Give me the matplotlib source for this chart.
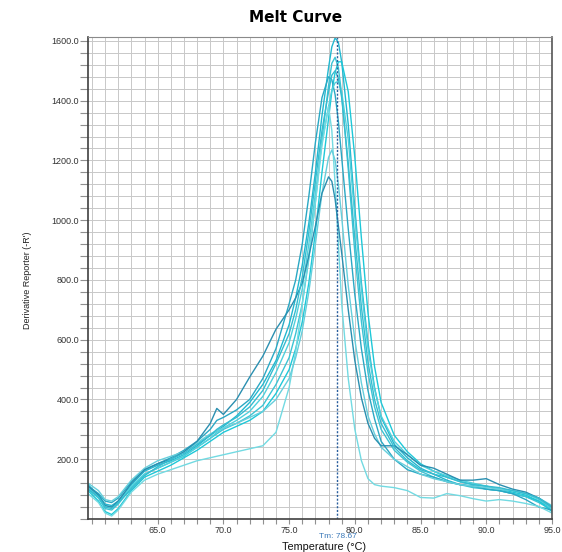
import matplotlib
matplotlib.use("Agg")
import matplotlib.pyplot as plt
from matplotlib.ticker import MultipleLocator, FixedLocator

plt.rcParams['font.family'] = ['Liberation Sans', 'DejaVu Sans']

# temperature sample points (deg C)
temps = [59.7, 60.5, 61, 61.5, 62, 63, 64, 65, 66, 67, 68, 69, 69.5, 70,
         71, 72, 73, 74, 75, 75.5, 76, 76.5, 77, 77.5, 78,
         78.25, 78.5, 78.75, 79, 79.5, 80, 80.5, 81, 81.5, 82,
         83, 84, 85, 86, 87, 88, 89, 90, 91, 92, 93, 94, 95]

# derivative reporter (-R') per well
well_a = [115, 80, 50, 45, 60, 115, 160, 180, 195, 215, 245, 280, 295, 310,
          345, 390, 450, 530, 650, 740, 850, 990, 1160, 1350, 1510,
          1580, 1610, 1595, 1530, 1320, 1040, 790, 590, 440, 340,
          250, 205, 170, 150, 130, 115, 110, 100, 95, 85, 75, 60, 35]
well_b = [100, 70, 35, 30, 50, 105, 150, 170, 190, 210, 240, 270, 285, 300,
          320, 345, 380, 450, 540, 620, 720, 870, 1060, 1270, 1450,
          1525, 1545, 1510, 1420, 1170, 890, 660, 490, 375, 300,
          230, 190, 160, 140, 125, 115, 105, 100, 95, 85, 75, 55, 30]
well_c = [95, 60, 25, 15, 35, 95, 140, 160, 180, 205, 230, 260, 275, 290,
          310, 330, 360, 420, 500, 570, 660, 790, 960, 1160, 1340,
          1430, 1495, 1530, 1530, 1430, 1210, 940, 690, 510, 390,
          280, 225, 185, 160, 140, 125, 115, 110, 100, 90, 80, 60, 25]
well_d = [110, 85, 60, 55, 70, 125, 165, 185, 205, 230, 260, 300, 330, 340,
          365, 400, 470, 570, 720, 800, 920, 1080, 1260, 1410, 1480,
          1470, 1420, 1330, 1210, 970, 750, 570, 430, 335, 260,
          200, 165, 150, 140, 125, 115, 110, 100, 95, 85, 65, 40, 30]
well_e = [105, 75, 45, 40, 55, 110, 150, 170, 190, 212, 240, 270, 290, 305,
          330, 360, 410, 490, 590, 670, 770, 920, 1090, 1260, 1380,
          1435, 1460, 1465, 1430, 1270, 1010, 770, 570, 435, 345,
          260, 215, 180, 160, 145, 130, 120, 110, 100, 95, 85, 65, 35]
well_f = [85, 55, 20, 10, 30, 90, 130, 150, 165, 180, 195, 205, 210, 215,
          225, 235, 245, 290, 440, 560, 720, 880, 1060, 1250, 1380,
          1300, 1120, 920, 720, 470, 300, 195, 135, 115, 110,
          105, 95, 72, 70, 85, 78, 68, 60, 65, 60, 52, 42, 20]
well_g = [120, 95, 65, 60, 75, 130, 170, 195, 210, 225, 255, 285, 295, 305,
          320, 340, 360, 400, 470, 540, 630, 760, 920, 1090, 1210,
          1235, 1200, 1120, 1010, 780, 600, 455, 345, 285, 240,
          200, 175, 150, 135, 125, 115, 110, 105, 100, 95, 85, 70, 45]
well_h = [110, 80, 45, 40, 60, 120, 165, 185, 200, 225, 260, 320, 370, 350,
          400, 475, 545, 635, 700, 740, 790, 880, 980, 1090, 1145,
          1130, 1070, 980, 890, 700, 530, 405, 320, 270, 245,
          245, 215, 180, 170, 150, 130, 130, 135, 115, 100, 90, 70, 40]
well_i = [100, 75, 40, 35, 55, 100, 145, 175, 200, 220, 250, 280, 300, 315,
          340, 375, 430, 520, 620, 700, 810, 960, 1130, 1300, 1430,
          1485, 1500, 1475, 1410, 1190, 940, 710, 525, 400, 320,
          240, 195, 165, 150, 140, 125, 115, 110, 105, 95, 85, 70, 40]

wells = [well_a, well_b, well_c, well_d, well_e, well_f, well_g, well_h, well_i]
colors = ['#22b8d0', '#3cc4d4', '#1ec8d8', '#2aa8c4', '#4fd0dc',
          '#72dae2', '#66cfdc', '#2a8fb0', '#35bcd0']

tm = 78.67
x_labels = [65, 70, 75, 80, 85, 90, 95]
y_labels = [200, 400, 600, 800, 1000, 1200, 1400, 1600]

fig = plt.figure(figsize=(5.62, 5.52), dpi=100)
ax = fig.add_axes([88 / 562, 33 / 552, 464 / 562, 482 / 552])

for vals, c in zip(wells, colors):
    ax.plot(temps, vals, color=c, lw=1.0)

ax.axvline(tm, color='#2a5f9e', lw=1.0, ls=(0, (1.5, 1.2)))

ax.set_xlim(59.7, 95)
ax.set_ylim(0, 1613)

ax.xaxis.set_major_locator(FixedLocator(x_labels))
ax.xaxis.set_minor_locator(MultipleLocator(1))
ax.yaxis.set_major_locator(FixedLocator(y_labels))
ax.yaxis.set_minor_locator(MultipleLocator(40))
ax.set_xticklabels([f"{v:.1f}" for v in x_labels])
ax.set_yticklabels([f"{v:.1f}" for v in y_labels])

ax.grid(which='both', color='#c8c8c8', lw=0.7)
ax.set_axisbelow(True)

ax.tick_params(which='both', width=0.8, color='#909090',
               labelsize=6.5, labelcolor='#333333')
ax.tick_params(axis='x', which='both', length=3.5, pad=1.5)
ax.tick_params(axis='y', which='both', length=5.5, pad=1)

for side in ['left', 'bottom']:
    ax.spines[side].set_color('#404040')
    ax.spines[side].set_linewidth(1.2)
ax.spines['right'].set_color('#555555')
ax.spines['right'].set_linewidth(1.2)
ax.spines['top'].set_color('#8a8a8a')
ax.spines['top'].set_linewidth(0.8)

fig.text(296 / 562, 1 - 18 / 552, 'Melt Curve', ha='center', va='center',
         fontsize=11, fontweight='bold', family=['DejaVu Sans'])
fig.text(28 / 562, 1 - 280 / 552, "Derivative Reporter (-R')", rotation=90,
         ha='center', va='center', fontsize=6.5, color='#222222')
fig.text(338 / 562, 1 - 537 / 552, f'Tm: {tm:.2f}', ha='center', va='center',
         fontsize=6, color='#3a78b8')
fig.text(324 / 562, 1 - 547.5 / 552, 'Temperature (\u00b0C)', ha='center',
         va='center', fontsize=7.8, color='#111111')

fig.savefig('out.png', dpi=100)
